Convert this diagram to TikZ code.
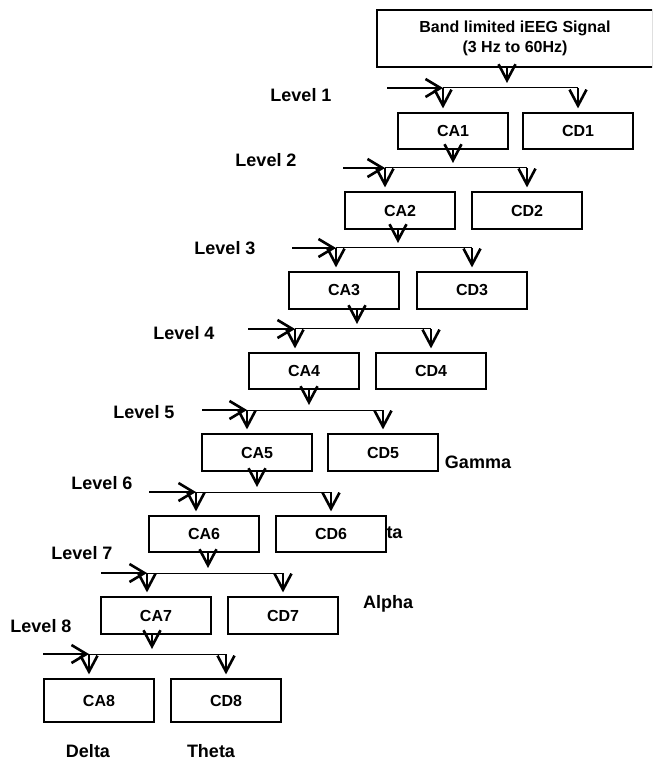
\documentclass[tikz,border=0pt]{standalone}
\usepackage{fontspec}
\setmainfont{Liberation Sans}
\usetikzlibrary{arrows.meta}

\begin{document}
\begin{tikzpicture}[x=0.5pt,y=-0.5pt,
  box/.style={draw,line width=0.6pt,fill=white,minimum width=55pt,inner sep=0pt,
    font=\fontsize{8}{10}\selectfont\bfseries},
  lvl/.style={inner sep=0pt,font=\fontsize{9}{11}\selectfont\bfseries},
  band/.style={inner sep=0pt,font=\fontsize{9}{11}\selectfont\bfseries},
  vtip/.style={-{Straight Barb[length=8pt,width=8.5pt,line width=1.3pt]},line width=0.8pt},
  intip/.style={-{Straight Barb[length=7.5pt,width=9pt,line width=1.3pt]},line width=1.4pt},
  branch/.style={line width=0.5pt}]
\useasboundingbox (0,0) rectangle (652,769);
\clip (0,0) rectangle (652,769);
% band names (Beta sits partly under CD6)
\node[band] (gamma) at (478,462) {Gamma};
\node[band] (beta) at (383,532) {Beta};
\node[band] (alpha) at (388,604) {Alpha};
\node[band] (delta) at (88,751) {Delta};
\node[band] (theta) at (211,751) {Theta};
% source signal
\node[box,minimum width=138pt,minimum height=28.5pt,align=center,
  font=\fontsize{8}{10}\selectfont\bfseries] (src) at (515,38.5)
  {Band limited iEEG Signal\\(3 Hz to 60Hz)};
% decomposition levels
\foreach \i/\up/\ax/\yt/\yb/\dx/\by/\bl/\px/\sx/\lx/\ly in {
  1/src/398/113/149/523/88/443/507/387/301/95,
  2/ca1/345/192/229/472/168/385/453/343/266/160,
  3/ca2/289/272/309/417/248/336/398/292/225/248,
  4/ca3/249/353/389/376/329/295/357/248/184/333,
  5/ca4/202/434/471/328/410/247/309/202/144/412,
  6/ca5/149/516/552/276/492/196/257/149/102/483,
  7/ca6/101/597/634/228/573/147/208/101/82/553,
  8/ca7/44/679/722/171/654/89/152/43/41/626} {
  \pgfmathsetmacro\hh{(\yb-\yt)/2}
  \node[box,minimum height=\hh pt] (ca\i) at ({\ax+55},{(\yt+\yb)/2}) {CA\i};
  \node[box,minimum height=\hh pt] (cd\i) at ({\dx+55},{(\yt+\yb)/2}) {CD\i};
  \coordinate (l\i) at (\bl,\by);
  \coordinate (r\i) at ({\dx+55},\by);
  \coordinate (j\i) at (\px,\by);
  \coordinate (in\i) at (\sx,\by);
  \draw[branch] (l\i) -- (r\i);
  \draw[vtip,shorten >=2.5pt] (j\i |- \up.south) -- (j\i);
  \draw[vtip,shorten >=2pt] (l\i) -- (l\i |- ca\i.north);
  \draw[vtip,shorten >=2pt] (r\i) -- (r\i |- cd\i.north);
  \draw[intip] (in\i) -- (l\i);
  \node[lvl] (lev\i) at (\lx,\ly) {Level \i};
}
\end{tikzpicture}
\end{document}
